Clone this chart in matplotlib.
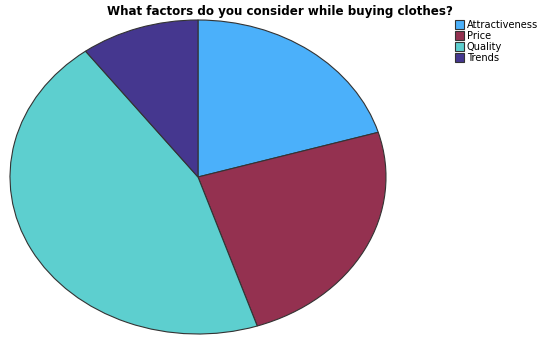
import matplotlib
matplotlib.use("Agg")
import matplotlib.pyplot as plt
import matplotlib.patches as patches

# survey answers
factors = ["Attractiveness", "Price", "Quality", "Trends"]
counts = [10, 12, 22, 5]
colors = ["#4bb0fa", "#943150", "#5dcfcf", "#45378f"]

W, H = 538, 337
fig = plt.figure(figsize=(W / 100, H / 100), dpi=100)

# stretched pie: axes box is wider than tall, aspect left on auto
ax = fig.add_axes([10 / W, 3 / H, 376 / W, 314 / H])
ax.pie(counts, colors=colors, startangle=90, counterclock=False,
       radius=1.0, wedgeprops=dict(edgecolor="#333333", linewidth=0.8))
ax.set_aspect("auto")
ax.set_xlim(-1.0, 1.0)
ax.set_ylim(-1.0, 1.0)
ax.axis("off")

fig.text(280 / W, 1 - 12 / H, "What factors do you consider while buying clothes?",
         ha="center", va="center", fontsize=8.6, fontweight="bold")

# legend squares
handles = [patches.Rectangle((0, 0), 1, 1, facecolor=c, edgecolor="#333333", lw=0.8)
           for c in colors]
fig.legend(handles, factors, loc="upper left", bbox_to_anchor=(455 / W, 1 - 20 / H),
           frameon=False, fontsize=7.1, handlelength=0.95, handleheight=0.95,
           handletextpad=0.25, labelspacing=0.1, borderpad=0, borderaxespad=0)

fig.savefig("out.png", dpi=100)
